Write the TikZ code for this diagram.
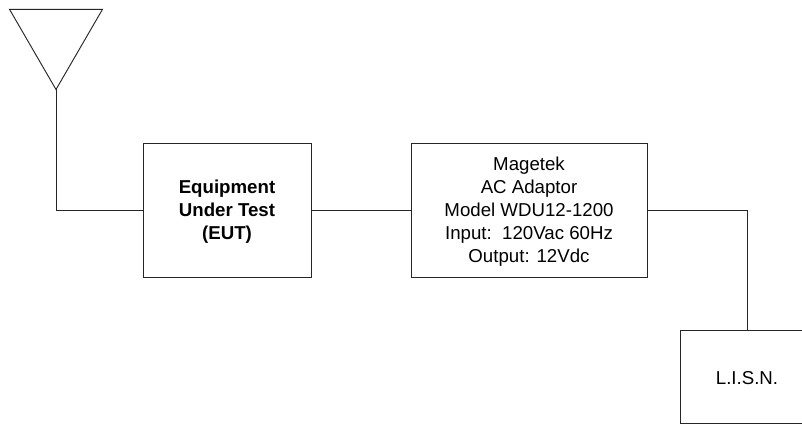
\documentclass[tikz,border=0pt]{standalone}
\usepackage{fontspec}
\setmainfont{Liberation Sans}
\begin{document}
\begin{tikzpicture}[x=0.75pt,y=-0.75pt,
  boxst/.style={draw=black!85,line width=0.7pt,fill=white,inner sep=0pt,align=center,font=\fontsize{14pt}{17.2pt}\selectfont},
  wire/.style={draw=black!85,line width=0.7pt}]
\useasboundingbox (0,0) rectangle (802,424);
\fill[white] (0,0) rectangle (802,424);
\node[boxst,minimum width=168*0.75pt,minimum height=134*0.75pt,font=\fontsize{14pt}{17.2pt}\selectfont\bfseries] (eut) at (227,210) {\rule{0pt}{12.6pt}Equipment\\Under Test\\(EUT)};
\node[boxst,minimum width=236*0.75pt,minimum height=134*0.75pt] (ada) at (529,210) {\rule{0pt}{12.6pt}Magetek\\AC Adaptor\\Model WDU12-1200\\Input:\ \ 120Vac 60Hz\\Output: 12Vdc};
\node[boxst,minimum width=134*0.75pt,minimum height=93*0.75pt] (lisn) at (747,376.5) {\rule{0pt}{11.4pt}L.I.S.N.};
\coordinate (a1) at (9.5,9.3);
\coordinate (a2) at (102.5,9.3);
\coordinate (a3) at (56,89.5);
\draw[wire] (a1) -- (a2) -- (a3) -- cycle;
\draw[wire] (a3) |- (eut.west);
\draw[wire] (eut.east) -- (ada.west);
\draw[wire] (ada.east) -| (lisn.north);
\end{tikzpicture}
\end{document}
